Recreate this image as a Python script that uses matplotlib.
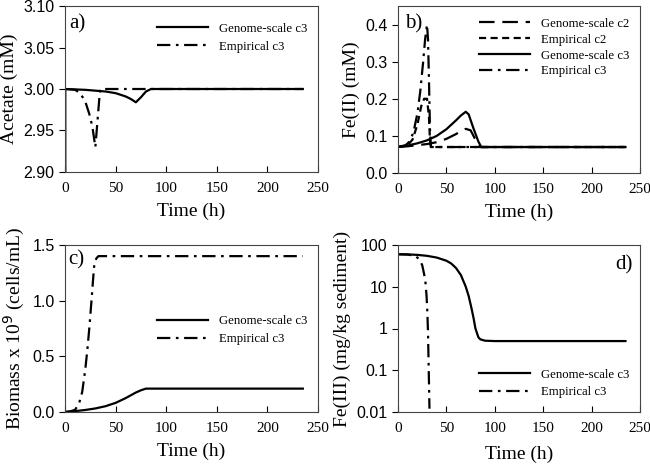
import numpy as np
import matplotlib
matplotlib.use("Agg")
from matplotlib import pyplot as plt
from matplotlib.ticker import FixedLocator, NullLocator, FixedFormatter

# ---- panel a: acetate (mM)
t_a_gen = [0, 0.3, 10, 20, 30, 40, 50, 60, 65, 70, 75, 80, 85, 100, 150, 200, 235]
ac_gen = [0.0, 3.0, 2.9995, 2.999, 2.998, 2.997, 2.995, 2.991, 2.988, 2.984, 2.99, 2.997, 3.0, 3.0, 3.0, 3.0, 3.0]
t_a_emp = [0.3, 10, 15, 20, 24, 27, 30, 32, 34, 35, 50, 100, 150, 200, 235]
ac_emp = [3.0, 2.999, 2.995, 2.985, 2.97, 2.955, 2.93, 2.96, 2.99, 3.0, 3.0, 3.0, 3.0, 3.0, 3.0]

# ---- panel b: Fe(II) (mM)
t_b_gc2 = [0, 10, 20, 30, 40, 50, 60, 65, 70, 75, 80, 85, 100, 150, 200, 235]
fe2_gc2 = [0.07, 0.072, 0.075, 0.078, 0.083, 0.092, 0.105, 0.113, 0.119, 0.115, 0.09, 0.07, 0.07, 0.07, 0.07, 0.07]
t_b_ec2 = [0, 10, 15, 20, 24, 27, 30, 32, 33, 34, 50, 100, 150, 200, 235]
fe2_ec2 = [0.07, 0.075, 0.09, 0.13, 0.18, 0.2, 0.2, 0.15, 0.09, 0.07, 0.07, 0.07, 0.07, 0.07, 0.07]
t_b_gc3 = [0, 10, 20, 30, 40, 50, 60, 65, 70, 73, 78, 83, 86, 100, 150, 200, 235]
fe2_gc3 = [0.07, 0.074, 0.08, 0.088, 0.1, 0.118, 0.142, 0.155, 0.165, 0.158, 0.12, 0.085, 0.07, 0.07, 0.07, 0.07, 0.07]
t_b_ec3 = [0, 8, 12, 16, 20, 23, 26, 28, 30, 31, 32, 33, 34, 50, 100, 150, 200, 235]
fe2_ec3 = [0.07, 0.075, 0.085, 0.11, 0.16, 0.22, 0.3, 0.36, 0.4, 0.36, 0.25, 0.12, 0.07, 0.07, 0.07, 0.07, 0.07, 0.07]

# ---- panel c: biomass x 1e9 (cells/mL)
t_c_gen = [0, 10, 20, 30, 40, 50, 60, 65, 70, 75, 80, 100, 150, 200, 235]
bio_gen = [0.0, 0.008, 0.018, 0.032, 0.052, 0.082, 0.125, 0.15, 0.175, 0.195, 0.21, 0.21, 0.21, 0.21, 0.21]
t_c_emp = [0, 5, 10, 14, 17, 20, 22, 24, 26, 28, 29, 31, 33, 50, 100, 150, 200, 235]
bio_emp = [0.0, 0.005, 0.02, 0.08, 0.18, 0.38, 0.55, 0.75, 0.98, 1.22, 1.33, 1.38, 1.4, 1.4, 1.4, 1.4, 1.4, 1.4]

# ---- panel d: Fe(III) (mg/kg sediment)
t_d_gen = [0, 10, 20, 30, 40, 50, 55, 60, 65, 70, 73, 76, 78, 80, 83, 85, 90, 100, 150, 200, 235]
fe3_gen = [60, 59.5, 58, 55, 50, 42, 36, 28, 19, 10, 6, 3, 1.8, 1.0, 0.62, 0.55, 0.51, 0.5, 0.5, 0.5, 0.5]
t_d_emp = [0, 10, 18, 22, 25, 27, 28.5, 29.5, 30.3, 31, 31.5, 32, 32.5]
fe3_emp = [60, 59, 55, 45, 33, 20, 12, 6, 2.5, 0.8, 0.2, 0.05, 0.012]

serif = "Liberation Serif"
sans = "Liberation Sans"
plt.rcParams["font.family"] = sans

DASHDOT = (0, (6, 2.5, 1.2, 2.5))
LONGDASH = (0, (7, 3.5))
SHORTDASH = (0, (3.2, 2))
LW = 1.6

fig = plt.figure(figsize=(6.5, 4.67), dpi=100)
W, H = 650.0, 467.0


def make_ax(x0, y0, x1, y1):
    return fig.add_axes([x0 / W, 1 - y1 / H, (x1 - x0) / W, (y1 - y0) / H])


ax_a = make_ax(65, 6, 318, 172)
ax_b = make_ax(398, 6, 640, 173)
ax_c = make_ax(65, 245, 318, 412)
ax_d = make_ax(398, 245, 640, 412)

for ax in (ax_a, ax_b, ax_c, ax_d):
    ax.set_xlim(0, 250)
    ax.set_xticks([0, 50, 100, 150, 200, 250])
    ax.tick_params(axis="x", direction="in", length=4, width=0.8, top=False,
                   labelsize=11, labelfontfamily=serif, pad=7)
    ax.tick_params(axis="y", direction="out", length=4, width=0.8, right=False,
                   labelsize=11.5, labelfontfamily=sans)
    ax.set_xlabel("Time (h)", fontfamily=serif, fontsize=14, labelpad=6)
    for s in ax.spines.values():
        s.set_linewidth(0.8)
        s.set_color("#444444")

leg_kw = dict(frameon=False, handlelength=4.0, prop={"family": serif, "size": 9.2},
              labelspacing=0.45, handletextpad=0.9, borderaxespad=0.4)

# a)
ax_a.plot(t_a_gen, ac_gen, color="black", lw=LW, label="Genome-scale c3")
ax_a.plot(t_a_emp, ac_emp, color="black", lw=LW, linestyle=DASHDOT, label="Empirical c3")
ax_a.set_ylim(2.90, 3.10)
ax_a.set_yticks([2.90, 2.95, 3.00, 3.05, 3.10])
ax_a.set_yticklabels(["2.90", "2.95", "3.00", "3.05", "3.10"])
ax_a.set_ylabel("Acetate (mM)", fontfamily=serif, fontsize=14)
ax_a.legend(loc="upper right", bbox_to_anchor=(1.0, 0.96), **leg_kw)
ax_a.text(0.016, 0.95, "a)", transform=ax_a.transAxes, fontfamily=serif, fontsize=15, va="top")

# b)
ax_b.plot(t_b_gc2, fe2_gc2, color="black", lw=LW, linestyle=LONGDASH, label="Genome-scale c2")
ax_b.plot(t_b_ec2, fe2_ec2, color="black", lw=LW, linestyle=SHORTDASH, label="Empirical c2")
ax_b.plot(t_b_gc3, fe2_gc3, color="black", lw=LW, label="Genome-scale c3")
ax_b.plot(t_b_ec3, fe2_ec3, color="black", lw=LW, linestyle=DASHDOT, label="Empirical c3")
ax_b.set_ylim(0, 0.45)
ax_b.set_yticks([0.0, 0.1, 0.2, 0.3, 0.4])
ax_b.set_yticklabels(["0.0", "0.1", "0.2", "0.3", "0.4"])
ax_b.set_ylabel("Fe(II) (mM)", fontfamily=serif, fontsize=14)
leg_b = dict(leg_kw, labelspacing=0.3)
ax_b.legend(loc="upper right", bbox_to_anchor=(1.0, 0.99), **leg_b)
ax_b.text(0.03, 0.95, "b)", transform=ax_b.transAxes, fontfamily=serif, fontsize=15, va="top")

# c)
ax_c.plot(t_c_gen, bio_gen, color="black", lw=LW, label="Genome-scale c3")
ax_c.plot(t_c_emp, bio_emp, color="black", lw=LW, linestyle=DASHDOT, label="Empirical c3")
ax_c.set_ylim(0, 1.5)
ax_c.set_yticks([0.0, 0.5, 1.0, 1.5])
ax_c.set_yticklabels(["0.0", "0.5", "1.0", "1.5"])
ax_c.set_ylabel("Biomass x 10$^9$ (cells/mL)", fontfamily=serif, fontsize=14)
ax_c.legend(loc="center right", bbox_to_anchor=(1.0, 0.49), **leg_kw)
ax_c.text(0.012, 0.97, "c)", transform=ax_c.transAxes, fontfamily=serif, fontsize=15, va="top")

# d)
ax_d.plot(t_d_gen, fe3_gen, color="black", lw=LW, label="Genome-scale c3")
ax_d.plot(t_d_emp, fe3_emp, color="black", lw=LW, linestyle=DASHDOT, label="Empirical c3")
ax_d.set_yscale("log")
ax_d.set_ylim(0.01, 100)
ax_d.yaxis.set_major_locator(FixedLocator([0.01, 0.1, 1, 10, 100]))
ax_d.yaxis.set_major_formatter(FixedFormatter(["0.01", "0.1", "1", "10", "100"]))
ax_d.yaxis.set_minor_locator(NullLocator())
ax_d.set_ylabel("Fe(III) (mg/kg sediment)", fontfamily=serif, fontsize=14)
ax_d.legend(loc="lower right", bbox_to_anchor=(1.0, 0.02), **leg_kw)
ax_d.text(0.97, 0.94, "d)", transform=ax_d.transAxes, fontfamily=serif, fontsize=15, va="top", ha="right")
ax_d.xaxis.labelpad = 8

fig.savefig("out.png", dpi=100)
